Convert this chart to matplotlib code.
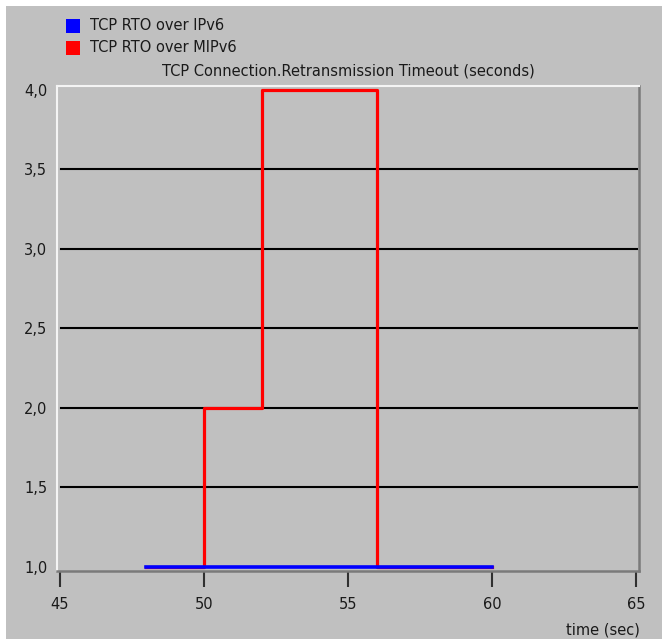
import matplotlib
matplotlib.use("Agg")
import matplotlib.pyplot as plt
from matplotlib.patches import Rectangle

# step data (time in seconds, RTO in seconds)
t_ipv6 = [48, 60]
rto_ipv6 = [1.0, 1.0]
t_mipv6 = [48, 50, 52, 56, 60]
rto_mipv6 = [1.0, 2.0, 4.0, 1.0, 1.0]

x_ticks = [45, 50, 55, 60, 65]
y_ticks = [1.0, 1.5, 2.0, 2.5, 3.0, 3.5, 4.0]
series_names = ["TCP RTO over IPv6", "TCP RTO over MIPv6"]
series_colors = ["#0000ff", "#ff0000"]

W, H = 662, 639
BG = "#c0c0c0"
TXT = "#1a1a1a"
plt.rcParams["font.family"] = "DejaVu Sans"
plt.rcParams["font.size"] = 10.5

fig = plt.figure(figsize=(W / 100, H / 100), dpi=100, facecolor="white")
# grey window area inside a thin white border
fig.patches.append(Rectangle((6 / W, 0), 1, 1 - 6 / H, transform=fig.transFigure,
                             facecolor=BG, edgecolor="none", zorder=-10))

left, right, top, bottom = 57, 639, 86, 571
ax = fig.add_axes([left / W, 1 - bottom / H, (right - left) / W, (bottom - top) / H])
ax.set_facecolor(BG)

ax.step(t_mipv6, rto_mipv6, where="post", color=series_colors[1], lw=2.3, zorder=3)
ax.step(t_ipv6, rto_ipv6, where="post", color=series_colors[0], lw=2.6, zorder=4)

for y in y_ticks[1:-1]:
    ax.axhline(y, color="black", lw=1.5, xmin=0.007, xmax=0.997, zorder=1)

ax.set_xlim(44.9, 65.1)
ax.set_ylim(0.975, 4.022)
ax.set_xticks(x_ticks)
ax.set_xticklabels([str(v) for v in x_ticks], color=TXT)
ax.set_yticks(y_ticks)
ax.set_yticklabels([f"{v:.1f}".replace(".", ",") for v in y_ticks], color=TXT)
ax.tick_params(axis="x", direction="out", length=11.5, width=1.5, color="#303030", pad=7)
ax.tick_params(axis="y", length=0, pad=7)

# sunken frame: light top/left, dark bottom/right
for side in ("top", "left"):
    ax.spines[side].set_color("#f4f4f4")
    ax.spines[side].set_linewidth(1.5)
for side in ("bottom", "right"):
    ax.spines[side].set_color("#7a7a7a")
    ax.spines[side].set_linewidth(1.8)

fig.text(348 / W, 1 - 71 / H, "TCP Connection.Retransmission Timeout (seconds)",
         ha="center", va="center", color=TXT)
fig.text(640 / W, 1 - 630 / H, "time (sec)", ha="right", va="center", color=TXT)

# legend squares
for i, (name, c) in enumerate(zip(series_names, series_colors)):
    yc = 26 + i * 22
    fig.patches.append(Rectangle((66 / W, 1 - (yc + 7) / H), 14 / W, 14 / H,
                                 transform=fig.transFigure, facecolor=c, edgecolor="none"))
    fig.text(90 / W, 1 - yc / H, name, ha="left", va="center", color=TXT)

fig.savefig("out.png", dpi=100, facecolor=fig.get_facecolor())
